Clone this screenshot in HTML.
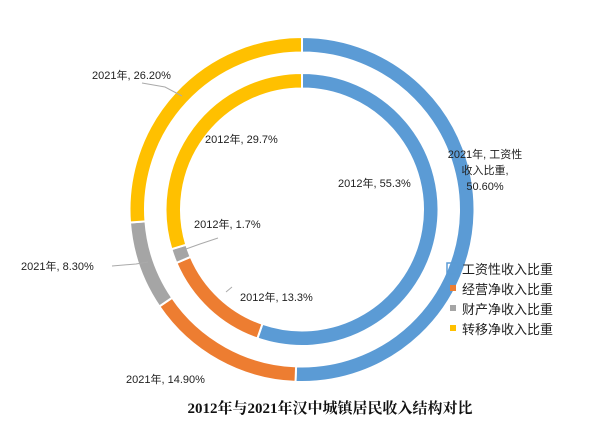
<!DOCTYPE html>
<html><head><meta charset="utf-8"><style>
body{margin:0;background:#fff;}
svg text{font-family:"Liberation Sans","Noto Sans CJK SC",sans-serif;font-size:11px;fill:#222;}
</style></head><body>
<svg width="600" height="438" viewBox="0 0 600 438" xmlns="http://www.w3.org/2000/svg">
<g id="rings"></g>
<g stroke="#aaa" stroke-width="1" fill="none">
<polyline points="142,83 165,87 182,96"/>
<polyline points="112,266 136,264 148,262"/>
<polyline points="186,249 200,244 218,238"/>
<polyline points="226,292 232,287"/>
</g>
<text x="92" y="79">2021年, 26.20%</text>
<text x="205" y="143">2012年, 29.7%</text>
<text x="338" y="187">2012年, 55.3%</text>
<text x="485" y="158" text-anchor="middle">2021年, 工资性</text>
<text x="485" y="174" text-anchor="middle">收入比重,</text>
<text x="485" y="190" text-anchor="middle">50.60%</text>
<text x="194" y="228">2012年, 1.7%</text>
<text x="21" y="270">2021年, 8.30%</text>
<text x="240" y="301">2012年, 13.3%</text>
<text x="126" y="383">2021年, 14.90%</text>
<rect x="449.5" y="265.5" width="6" height="6" fill="#5b9bd5"/>
<rect x="447" y="263" width="11" height="11" fill="none" stroke="#5b9bd5" stroke-width="1.5"/>
<rect x="450" y="285" width="6" height="6" fill="#ed7d31"/>
<rect x="450" y="305" width="6" height="6" fill="#a5a5a5"/>
<rect x="450" y="325" width="6" height="6" fill="#ffc000"/>
<text x="462" y="274" style="font-size:13px">工资性收入比重</text>
<text x="462" y="294" style="font-size:13px">经营净收入比重</text>
<text x="462" y="314" style="font-size:13px">财产净收入比重</text>
<text x="462" y="334" style="font-size:13px">转移净收入比重</text>
<text x="330" y="413" text-anchor="middle" style="font-size:15px;font-weight:bold;fill:#111;font-family:'Liberation Serif','Noto Serif CJK SC',serif">2012年与2021年汉中城镇居民收入结构对比</text>
</svg>
<script>
(function(){
var cx=302,cy=209.5,g=document.getElementById('rings');
var cols=['#5b9bd5','#ed7d31','#a5a5a5','#ffc000'];
function ring(vals,r0,r1){
 var a=0,t=vals.reduce(function(s,v){return s+v},0);
 vals.forEach(function(v,i){
  var a0=a/t*2*Math.PI,a1=(a+v)/t*2*Math.PI;a+=v;
  function p(r,an){return [cx+r*Math.sin(an),cy-r*Math.cos(an)];}
  var lg=(a1-a0)>Math.PI?1:0;
  var p1=p(r1,a0),p2=p(r1,a1),p3=p(r0,a1),p4=p(r0,a0);
  var d='M'+p1+' A'+r1+','+r1+' 0 '+lg+' 1 '+p2+' L'+p3+' A'+r0+','+r0+' 0 '+lg+' 0 '+p4+'Z';
  var e=document.createElementNS('http://www.w3.org/2000/svg','path');
  e.setAttribute('d',d);e.setAttribute('fill',cols[i]);e.setAttribute('stroke','#fff');e.setAttribute('stroke-width','2');
  g.appendChild(e);
 });
}
ring([50.6,14.9,8.3,26.2],157,172.5);
ring([55.3,13.3,1.7,29.7],121,136.5);
})();
</script>
</body></html>
